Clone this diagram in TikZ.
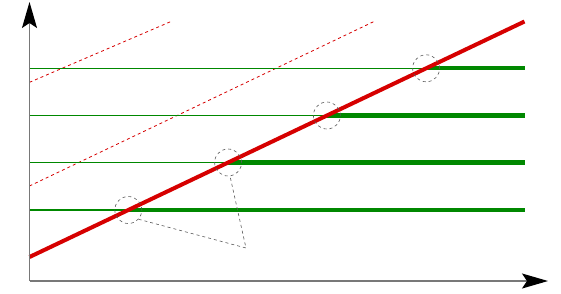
\documentclass[tikz,border=0pt]{standalone}
\usetikzlibrary{arrows.meta,calc}
\definecolor{myred}{RGB}{214,0,0}
\definecolor{mygreen}{RGB}{0,136,0}
\definecolor{axgray}{RGB}{120,120,120}
\tikzset{
  axis/.style={draw=axgray,line width=1.3pt,-{Stealth[length=26pt,width=15pt,inset=5pt,color=black]}},
  mainline/.style={draw=myred,line width=4pt},
  guide/.style={draw=myred,line width=0.8pt,dashed},
  thinrow/.style={draw=mygreen,line width=1.3pt},
  thickrow/.style={draw=mygreen,line width=4.2pt},
  ring/.style={circle,draw=black!65,dashed,line width=0.6pt,minimum size=27pt,inner sep=0pt},
  link/.style={draw=black!65,dashed,line width=0.6pt}
}
\begin{document}
\begin{tikzpicture}[x=1pt,y=-1pt]
\useasboundingbox (0,0) rectangle (561,293);
% axes
\coordinate (O) at (29.5,281);
\coordinate (ytop) at (29.5,2);
\coordinate (xend) at (548,281);
% guide dashed lines
\coordinate (g1a) at (29.5,82.3);
\coordinate (g1b) at (171,21.5);
\coordinate (g2a) at (29.5,186);
\coordinate (g2b) at (375,21);
\draw[guide] (g1a) -- (g1b);
\draw[guide] (g2a) -- (g2b);
% green rows
\foreach \i/\y/\x in {1/210/128.3, 2/162.5/228.1, 3/115.5/326.9, 4/68.3/426.1} {
  \coordinate (L\i) at (29.5,\y);
  \coordinate (X\i) at (\x,\y);
  \coordinate (R\i) at (525,\y);
  \draw[thinrow] (L\i) -- (X\i);
  \draw[thickrow] (X\i) -- (R\i);
}
% red line
\coordinate (r0) at (29.5,257);
\coordinate (r1) at (524.5,21.5);
\draw[mainline] (r0) -- (r1);
% circles
\foreach \i in {1,2,3,4} {
  \node[ring] (c\i) at (X\i) {};
}
\coordinate (p) at (246,248);
\draw[link] (c1.-42) -- (p) -- (c2.-82);
\draw[axis] (O) -- (ytop);
\draw[axis] (O) -- (xend);
\end{tikzpicture}
\end{document}
